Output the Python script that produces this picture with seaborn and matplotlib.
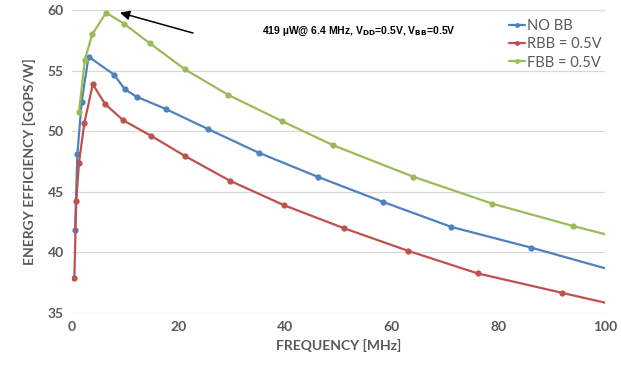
import numpy as np
import pandas as pd
import matplotlib
matplotlib.use("Agg")
import matplotlib.pyplot as plt
from matplotlib.lines import Line2D
import seaborn as sns

# values (last point of each series sits past 100 MHz, clipped by the axis)
no_bb_freq = [0.56, 1.0, 1.8, 3.1, 7.9, 9.9, 12.1, 17.6, 25.6, 35.0, 46.2, 58.4, 71.2, 86.2, 102.0]
no_bb_eff = [41.85, 48.1, 52.4, 56.15, 54.66, 53.46, 52.85, 51.83, 50.16, 48.23, 46.22, 44.16, 42.1, 40.39, 38.45]

rbb_freq = [0.43, 0.8, 1.3, 2.3, 3.9, 6.2, 9.6, 14.8, 21.2, 29.6, 39.8, 51.0, 63.0, 76.1, 91.9, 108.0]
rbb_eff = [37.87, 44.27, 47.38, 50.65, 53.87, 52.24, 50.9, 49.63, 47.95, 45.92, 43.89, 42.0, 40.14, 38.27, 36.67, 35.05]

fbb_freq = [1.3, 2.4, 3.8, 6.4, 9.8, 14.6, 21.2, 29.3, 39.5, 49.0, 64.0, 78.9, 94.0, 109.0]
fbb_eff = [51.56, 55.9, 58.0, 59.78, 58.85, 57.25, 55.1, 53.0, 50.81, 48.84, 46.25, 44.02, 42.18, 40.5]

series_names = ["NO BB", "RBB = 0.5V", "FBB = 0.5V"]
colors = ["#4F81BD", "#C0504D", "#9BBB59"]

df = pd.concat([
    pd.DataFrame({"freq": no_bb_freq, "eff": no_bb_eff, "series": series_names[0]}),
    pd.DataFrame({"freq": rbb_freq, "eff": rbb_eff, "series": series_names[1]}),
    pd.DataFrame({"freq": fbb_freq, "eff": fbb_eff, "series": series_names[2]}),
])

sns.set_style("white")
plt.rcParams["font.family"] = ["Lato", "DejaVu Sans"]
plt.rcParams["mathtext.fontset"] = "custom"
plt.rcParams["mathtext.rm"] = "Liberation Sans Narrow:bold"

gray = "#595959"
fig = plt.figure(figsize=(6.21, 3.65), dpi=100)
ax = fig.add_axes([0.116, 0.1425, 0.858, 0.8301])

sns.lineplot(data=df, x="freq", y="eff", hue="series", hue_order=series_names,
             palette=colors, marker="o", markersize=4.5, markeredgewidth=0,
             linewidth=1.6, estimator=None, sort=False, legend=False, ax=ax)

ax.set_xlim(0, 100)
ax.set_ylim(35, 60)
ax.set_xticks([0, 20, 40, 60, 80, 100])
ax.set_yticks([35, 40, 45, 50, 55, 60])
ax.yaxis.grid(True, color="#D9D9D9", linewidth=0.9)
ax.set_axisbelow(True)
for s in ax.spines.values():
    s.set_visible(False)
ax.tick_params(length=0, labelsize=10, labelcolor=gray, pad=6)
for lab in ax.get_xticklabels() + ax.get_yticklabels():
    lab.set_fontweight("bold")

ax.set_xlabel("FREQUENCY [MHz]", fontsize=10, color=gray, fontweight="bold", labelpad=4)
ax.set_ylabel("ENERGY EFFICIENCY [GOPS/W]", fontsize=10, color=gray, fontweight="bold", labelpad=8)

handles = [Line2D([0], [0], color=c, marker="o", markersize=3.5, markeredgewidth=0, linewidth=1.6)
           for c in colors]
leg = ax.legend(handles, series_names, loc="upper right", bbox_to_anchor=(1.01, 1.0),
                frameon=False, fontsize=10.5, handlelength=1.1, handletextpad=0.1,
                labelspacing=0.3, borderaxespad=0.2)
for t in leg.get_texts():
    t.set_color(gray)

# arrow to the FBB peak, label placed to the right of the arrow tail
ax.annotate("", xy=(9.0, 59.78), xytext=(22.7, 58.1),
            arrowprops=dict(arrowstyle="-|>", color="black", lw=1.1,
                            shrinkA=0, shrinkB=0, mutation_scale=14))
ax.text(35.6, 58.2, r"419 µW@ 6.4 MHz, V$_{\rm DD}$=0.5V, V$_{\rm BB}$=0.5V",
        fontsize=7.5, fontweight="bold", color="black",
        family=["Liberation Sans Narrow", "Liberation Sans"], va="center")

fig.savefig("out.png", dpi=100)
